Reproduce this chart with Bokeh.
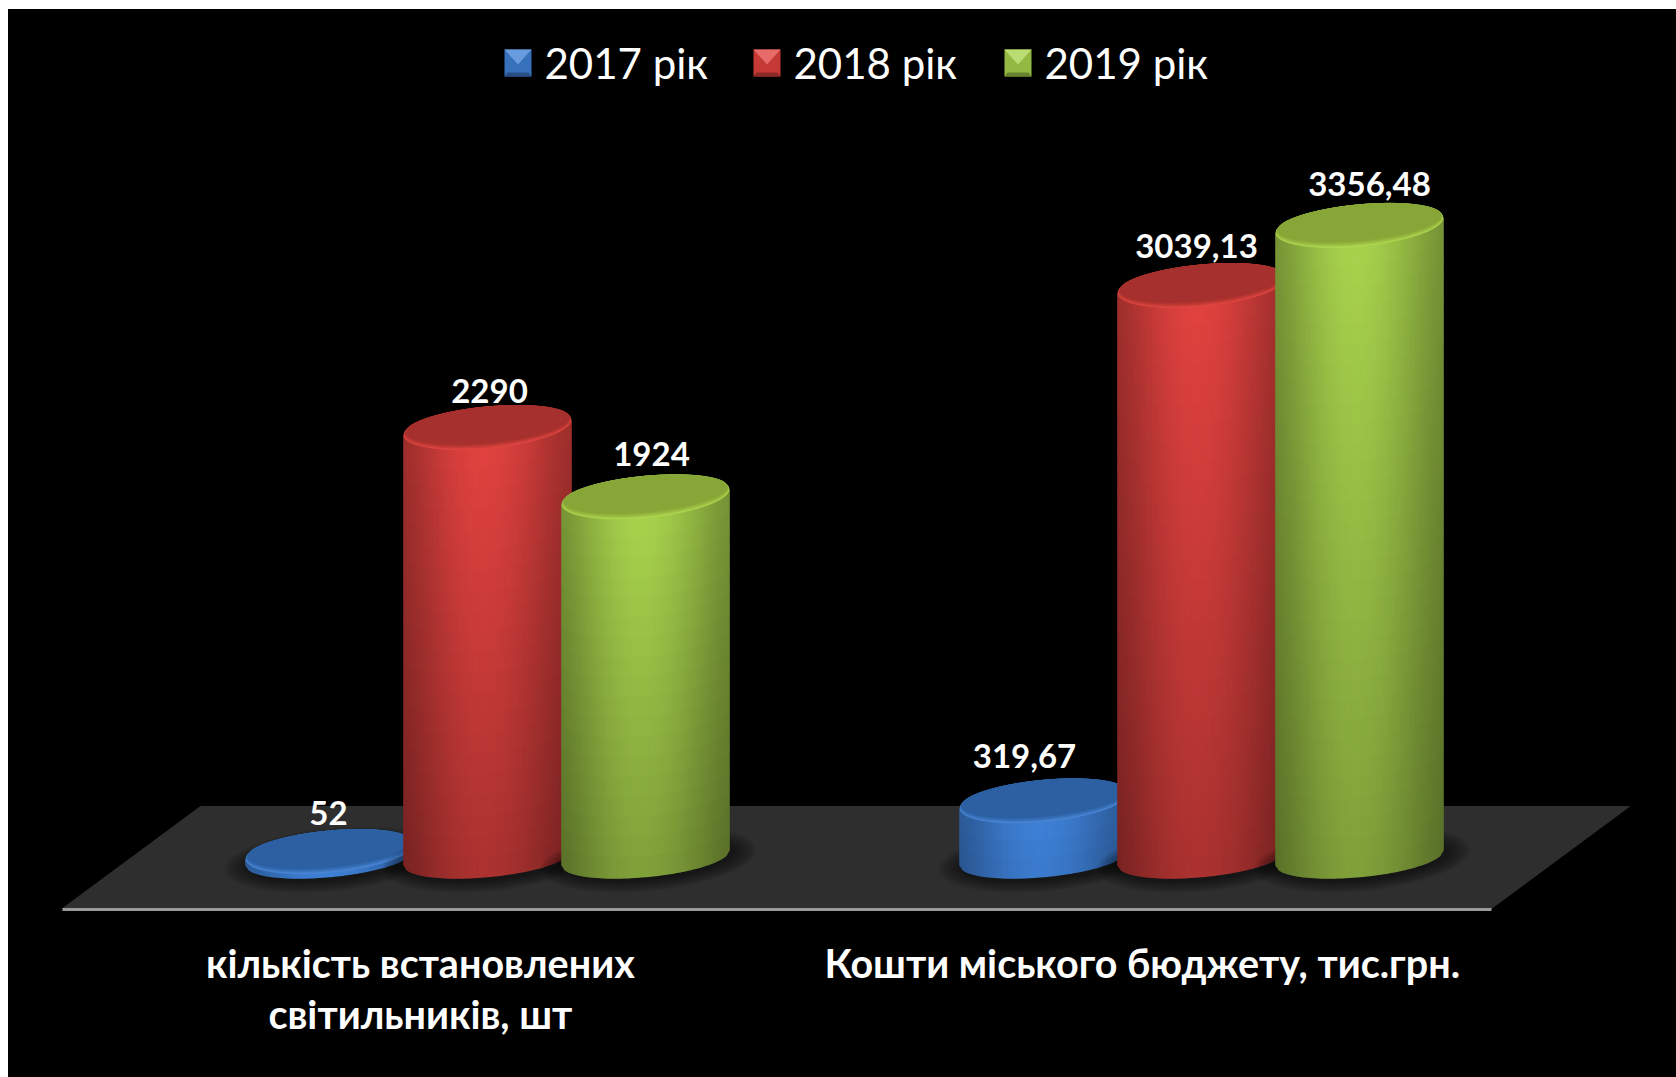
import math
from bokeh.plotting import figure
from bokeh.models import ColumnDataSource, LinearAxis, FixedTicker, Range1d
from bokeh.core.properties import value
from bokeh.embed import file_html
from bokeh.resources import INLINE

# ---- data -------------------------------------------------------------
categories = ["кількість встановлених\nсвітильників, шт", "Кошти міського бюджету, тис.грн."]
series_names = ["2017 рік", "2018 рік", "2019 рік"]
values_2017 = [52, 319.67]
values_2018 = [2290, 3039.13]
values_2019 = [1924, 3356.48]
label_2017 = ["52", "319,67"]
label_2018 = ["2290", "3039,13"]
label_2019 = ["1924", "3356,48"]

# ---- styles -----------------------------------------------------------
side_rgb = [(62, 128, 214), (224, 66, 63), (168, 210, 76)]
top_rgb = [(44, 96, 162), (166, 48, 45), (136, 166, 55)]
rim_rgb = [(78, 138, 218), (228, 72, 66), (178, 218, 82)]
FONT = "Lato"

# ---- scales -----------------------------------------------------------
W, H = 1668, 1068
PAGE_X0 = 8.0
PAGE_Y0 = 9.0
FRAME_BOTTOM_PAGE = 915.0
BOTTOM_BORDER = int(PAGE_Y0 + H - FRAME_BOTTOM_PAGE)
PX_PER_CAT = 714.0
PX_PER_UNIT = 0.1895
ZERO_PAGE_Y = 861.0
X_START = 0.5 - (487 - PAGE_X0) / PX_PER_CAT


def X(px):
    return X_START + (px - PAGE_X0) / PX_PER_CAT


def Y(py):
    return (ZERO_PAGE_Y - py) / PX_PER_UNIT


p = figure(width=W, height=H, output_backend="svg", toolbar_location=None,
           x_axis_type=None, y_axis_type=None,
           x_range=Range1d(X_START, X_START + W / PX_PER_CAT),
           y_range=Range1d(Y(FRAME_BOTTOM_PAGE), Y(PAGE_Y0)),
           background_fill_color=None, border_fill_color="black",
           min_border_left=0, min_border_right=0, min_border_top=0,
           min_border_bottom=BOTTOM_BORDER, margin=(9, 0, 0, 8))
p.styles = {"background-color": "black"}
p.outline_line_color = None
p.grid.visible = False

# ---- floor ------------------------------------------------------------
p.patch([X(62), X(1491), X(1629), X(200)], [Y(908), Y(908), Y(806), Y(806)],
        fill_color="#2e2e2e", line_color="#2e2e2e")
p.line([X(62), X(1491)], [Y(909), Y(909)], line_color="#9a9a9a", line_width=3)

# ---- cylinders --------------------------------------------------------
A = 83.5            # half width, px
B_TOP = 20.7        # half height of the top ellipse
B_BASE = 19.0
SLOPE = 0.09
BASE_Y = 857.0
SPACING = 158.0
STRIPS = 48
ROW_PX = 20.0


def hexc(rgb):
    return "#%02x%02x%02x" % tuple(max(0, min(255, int(round(c)))) for c in rgb)


def mix(a, b, t):
    return tuple(x + (y - x) * t for x, y in zip(a, b))


def lower_edge(cy, b, t):
    return cy - SLOPE * A * t + b * math.sqrt(max(0.0, 1 - t * t))


def ellipse_pts(cx, cy, a, b, n=72):
    xs, ys = [], []
    for i in range(n):
        th = 2 * math.pi * i / n
        t, s = math.cos(th), math.sin(th)
        xs.append(X(cx + a * t))
        ys.append(Y(cy - SLOPE * a * t + b * s))
    return xs, ys


def shade(t):
    # bright just left of centre, falling off to both edges
    u = (t + 0.05) / (1.05 if t > -0.05 else 0.95)
    return 0.71 + 0.29 * math.cos(min(1.0, abs(u)) * math.pi / 2) ** 1.3


def draw_cylinder(group, s, val):
    cx = 487 + group * PX_PER_CAT + (s - 1) * SPACING
    top_y = ZERO_PAGE_Y - PX_PER_UNIT * val
    height = BASE_Y - top_y

    # soft shadow on the floor
    for k in range(10):
        xs, ys = ellipse_pts(cx + 3, BASE_Y + 2, A + 3 + k * 2.4, B_BASE + 2 + k * 1.2)
        p.patch(xs, ys, fill_color="black", fill_alpha=0.055, line_color=None)

    # side wall: a grid of shaded cells
    xs, ys, cols = [], [], []
    rows = max(1, int(round(height / ROW_PX)))
    for i in range(STRIPS):
        t0 = -1 + 2 * i / STRIPS
        t1 = -1 + 2 * (i + 1) / STRIPS
        tm = (t0 + t1) / 2
        hf = shade(tm)
        tb0, tb1 = lower_edge(top_y, B_TOP, t0), lower_edge(top_y, B_TOP, t1)
        bb0, bb1 = lower_edge(BASE_Y, B_BASE, t0), lower_edge(BASE_Y, B_BASE, t1)
        for r in range(rows):
            f0, f1 = r / rows, (r + 1) / rows
            fm = (f0 + f1) / 2
            vf = 1 - 0.24 * fm * min(1.0, height / 250.0)
            c = side_rgb[s]
            col = hexc(tuple(v * hf * vf for v in c))
            xs.append([X(cx + A * t0), X(cx + A * t1), X(cx + A * t1), X(cx + A * t0)])
            ys.append([Y(tb0 + (bb0 - tb0) * f0), Y(tb1 + (bb1 - tb1) * f0),
                       Y(tb1 + (bb1 - tb1) * f1), Y(tb0 + (bb0 - tb0) * f1)])
            cols.append(col)
    src = ColumnDataSource(dict(xs=xs, ys=ys, c=cols))
    p.patches("xs", "ys", source=src, fill_color="c", line_color="c", line_width=1.6)

    # top cap with a bevelled rim that is strongest along the lower edge
    steps = 7
    for k in range(steps + 1):
        f = k / steps
        xs_, ys_ = ellipse_pts(cx, top_y - 2.8 * f, A * (1 - 0.02 * f), B_TOP * (1 - 0.14 * f))
        col = hexc(mix(rim_rgb[s], top_rgb[s], f ** 0.7))
        p.patch(xs_, ys_, fill_color=col, line_color=col, line_width=0.5)


all_values = [values_2017, values_2018, values_2019]
for g in range(len(categories)):
    for s in range(len(series_names)):
        draw_cylinder(g, s, all_values[s][g])

# ---- value labels -----------------------------------------------------
lab_x, lab_y, lab_t, lab_dx, lab_dy = [], [], [], [], []
nudge_x = [[-1, 2, 6], [-19, -5, 10]]
nudge_y = [[-39, -37, -43], [-45, -40, -41]]
all_labels = [label_2017, label_2018, label_2019]
for g in range(len(categories)):
    for s in range(len(series_names)):
        lab_x.append(g + 0.5 + (s - 1) * SPACING / PX_PER_CAT)
        lab_y.append(all_values[s][g])
        lab_t.append(all_labels[s][g])
        lab_dx.append(nudge_x[g][s])
        lab_dy.append(nudge_y[g][s])
p.text("x", "y", text="t", x_offset="dx", y_offset="dy",
       source=ColumnDataSource(dict(x=lab_x, y=lab_y, t=lab_t, dx=lab_dx, dy=lab_dy)),
       text_color="white", text_font=value(FONT), text_font_style="bold",
       text_font_size="33px", text_align="center", text_baseline="middle")

# ---- legend -----------------------------------------------------------
marker_x = [504, 753, 1004]
text_x = [544, 793, 1044]
for i, name in enumerate(series_names):
    x0, x1 = marker_x[i], marker_x[i] + 27
    y0, y1 = 49, 76
    mid = tuple(v * 0.88 for v in side_rgb[i])
    faces = [
        ([x0, x1, x1, x0], [y0, y0, y1, y1], mid),
        ([x0, x1, x0 + 13.5], [y0, y0, y0 + 15], mix(side_rgb[i], (255, 255, 255), 0.22)),
        ([x0, x1, x1 - 3, x0 + 3], [y1, y1, y1 - 4, y1 - 4], tuple(v * 0.62 for v in side_rgb[i])),
    ]
    for fx, fy, c in faces:
        p.patch([X(v) for v in fx], [Y(v) for v in fy], fill_color=hexc(c), line_color=None)
    p.text([X(text_x[i])], [Y(62)], text=[name], text_color="white", text_font=value(FONT),
           text_font_size="42px", text_align="left", text_baseline="middle")

# ---- category axis ----------------------------------------------------
tick_pos = [round(X(420), 3), round(X(1142), 3)]
axis = LinearAxis(ticker=FixedTicker(ticks=tick_pos))
axis.major_label_overrides = {tick_pos[0]: categories[0], tick_pos[1]: categories[1]}
axis.axis_line_color = None
axis.major_tick_line_color = None
axis.minor_tick_line_color = None
axis.major_label_standoff = 17
axis.major_label_text_color = "white"
axis.major_label_text_font = FONT
axis.major_label_text_font_style = "bold"
axis.major_label_text_font_size = "39.5px"
axis.major_label_text_line_height = 1.1
p.add_layout(axis, "below")

open("out.html", "w").write(file_html(p, INLINE))
